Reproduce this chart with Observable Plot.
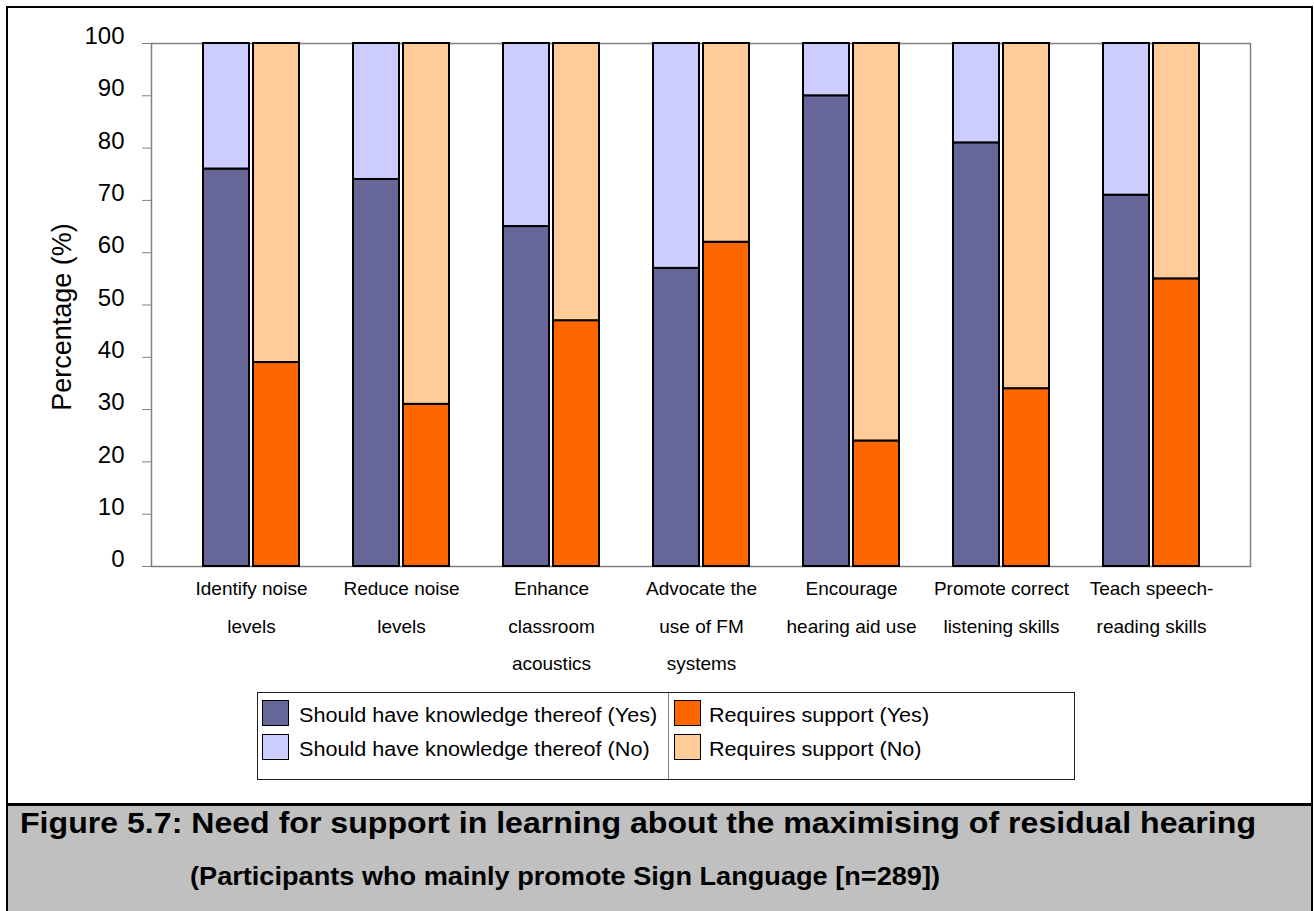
<!DOCTYPE html>
<html>
<head>
<meta charset="utf-8">
<script src="https://cdn.jsdelivr.net/npm/d3@7"></script>
<script src="https://cdn.jsdelivr.net/npm/@observablehq/plot@0.6"></script>
<style>
  body { margin: 0; background: #fff; font-family: "Liberation Sans", Arial, sans-serif; }
  #page { position: relative; width: 1314px; height: 911px; overflow: hidden; }
  #outer { position: absolute; left: 6px; top: 6px; width: 1303px; height: 930px; border: 2px solid #000; border-bottom: none; }
  #chart { position: absolute; left: 0; top: 0; }
  #legend { position: absolute; left: 257px; top: 692px; width: 816px; height: 86px; border: 1px solid #222; background: #fff; }
  #legend .div { position: absolute; left: 410px; top: 0; width: 1px; height: 86px; background: #808080; }
  #legend .sw { position: absolute; width: 25px; height: 24px; border: 1.5px solid #000; }
  #legend .lab { position: absolute; font-size: 20px; line-height: 20px; white-space: nowrap; transform: scaleX(1.08); transform-origin: left center; color: #000; }
  #caption { position: absolute; left: 8px; top: 803px; width: 1303px; height: 130px; border-top: 3px solid #000; background: #C0C0C0; }
</style>
</head>
<body>
<div id="page">
  <div id="outer"></div>
  <div id="chart"></div>
  <div id="legend"></div>
  <div id="caption"></div>
</div>
<script>
// ---- data ----
const categories = ["Identify noise levels", "Reduce noise levels", "Enhance classroom acoustics", "Advocate the use of FM systems", "Encourage hearing aid use", "Promote correct listening skills", "Teach speech-reading skills"];
const categoryLabels = ["Identify noise\nlevels", "Reduce noise\nlevels", "Enhance\nclassroom\nacoustics", "Advocate the\nuse of FM\nsystems", "Encourage\nhearing aid use", "Promote correct\nlistening skills", "Teach speech-\nreading skills"];
const knowledgeYes = [76, 74, 65, 57, 90, 81, 71];
const knowledgeNo  = [24, 26, 35, 43, 10, 19, 29];
const supportYes   = [39, 31, 47, 62, 24, 34, 55];
const supportNo    = [61, 69, 53, 38, 76, 66, 45];
const seriesNames = ["Should have knowledge thereof (Yes)", "Should have knowledge thereof (No)", "Requires support (Yes)", "Requires support (No)"];
const seriesColors = ["#666699", "#CCCCFF", "#FF6600", "#FFCC99"];
const yTicks = [0, 10, 20, 30, 40, 50, 60, 70, 80, 90, 100];
const yLabel = "Percentage (%)";
const title = "Figure 5.7: Need for support in learning about the maximising of residual hearing";
const subtitle = "(Participants who mainly promote Sign Language [n=289])";

const knowledgeData = categories.flatMap((c, i) => [
  {cat: c, series: seriesNames[0], value: knowledgeYes[i]},
  {cat: c, series: seriesNames[1], value: knowledgeNo[i]}
]);
const supportData = categories.flatMap((c, i) => [
  {cat: c, series: seriesNames[2], value: supportYes[i]},
  {cat: c, series: seriesNames[3], value: supportNo[i]}
]);

const chart = Plot.plot({
  width: 1314,
  height: 690,
  marginLeft: 151,
  marginRight: 64,
  marginTop: 43,
  marginBottom: 124,
  style: {background: "none", fontFamily: "Liberation Sans, Arial, sans-serif", color: "#000"},
  x: {domain: categories, paddingInner: 0.36, paddingOuter: 0.343, align: 0.5, label: null},
  y: {domain: [0, 100], label: null},
  color: {domain: seriesNames, range: seriesColors},
  marks: [
    Plot.frame({stroke: "#808080", strokeWidth: 1.5}),
    Plot.barY(knowledgeData, {x: "cat", y: "value", fill: "series", stroke: "#000", strokeWidth: 2, insetRight: 50}),
    Plot.barY(supportData, {x: "cat", y: "value", fill: "series", stroke: "#000", strokeWidth: 2, insetLeft: 50}),
    Plot.axisY(yTicks, {tickSize: 9, stroke: "#808080", tickFormat: () => "", label: null}),
    Plot.axisY(yTicks, {tickSize: 0, tickPadding: 27, fontSize: 24, dy: -7, fill: "#000", label: null}),
    Plot.axisX({tickSize: 0, tickPadding: 2, fontSize: 19, lineHeight: 1.97, fill: "#000",
      tickFormat: c => categoryLabels[categories.indexOf(c)], label: null}),
    Plot.text([yLabel], {text: d => d, frameAnchor: "left", rotate: -90, dx: -89, dy: 12,
      fontSize: 27, textAnchor: "middle", lineAnchor: "middle", fill: "#000"})
  ]
});
document.getElementById("chart").appendChild(chart);

// ---- legend ----
const legend = document.getElementById("legend");
const divider = document.createElement("div");
divider.className = "div";
legend.appendChild(divider);
const legendPos = [
  {sx: 4, sy: 7, tx: 41, ty: 12},
  {sx: 4, sy: 41, tx: 41, ty: 46},
  {sx: 416, sy: 7, tx: 451, ty: 12},
  {sx: 416, sy: 41, tx: 451, ty: 46}
];
seriesNames.forEach((name, i) => {
  const p = legendPos[i];
  const sw = document.createElement("div");
  sw.className = "sw";
  sw.style.left = p.sx + "px";
  sw.style.top = p.sy + "px";
  sw.style.background = seriesColors[i];
  legend.appendChild(sw);
  const lab = document.createElement("div");
  lab.className = "lab";
  lab.style.left = p.tx + "px";
  lab.style.top = p.ty + "px";
  lab.textContent = name;
  legend.appendChild(lab);
});

// ---- caption ----
const ns = "http://www.w3.org/2000/svg";
const cap = document.createElementNS(ns, "svg");
cap.setAttribute("width", 1303);
cap.setAttribute("height", 110);
cap.style.display = "block";
const t1 = document.createElementNS(ns, "text");
t1.setAttribute("x", 12);
t1.setAttribute("y", 27);
t1.setAttribute("font-size", 29);
t1.setAttribute("font-weight", "bold");
t1.setAttribute("font-family", "Liberation Sans, Arial, sans-serif");
t1.setAttribute("textLength", 1236);
t1.setAttribute("lengthAdjust", "spacingAndGlyphs");
t1.textContent = title;
cap.appendChild(t1);
const t2 = document.createElementNS(ns, "text");
t2.setAttribute("x", 182);
t2.setAttribute("y", 79);
t2.setAttribute("font-size", 25);
t2.setAttribute("font-weight", "bold");
t2.setAttribute("font-family", "Liberation Sans, Arial, sans-serif");
t2.setAttribute("textLength", 750);
t2.setAttribute("lengthAdjust", "spacingAndGlyphs");
t2.textContent = subtitle;
cap.appendChild(t2);
document.getElementById("caption").appendChild(cap);
</script>
</body>
</html>
